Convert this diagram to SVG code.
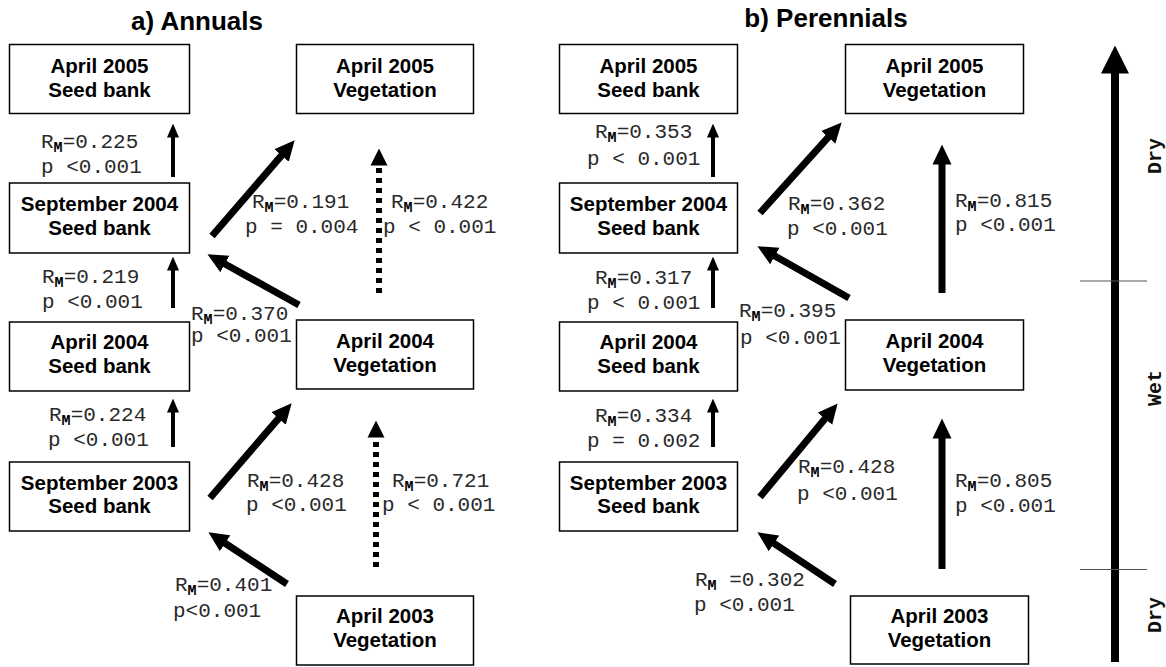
<svg xmlns="http://www.w3.org/2000/svg" width="1166" height="667" viewBox="0 0 1166 667">
<style>
.box rect{fill:#fff;stroke:#000;stroke-width:1.5}
.box text{font-family:"Liberation Sans",Arial,sans-serif;font-weight:bold;font-size:20.5px;text-anchor:middle;fill:#000}
.title{font-family:"Liberation Sans",Arial,sans-serif;font-weight:bold;font-size:26px;text-anchor:middle;fill:#000}
.lbl{font-family:"Liberation Mono","Courier New",monospace;font-size:21px;fill:#2a2a2a}
.sub{font-weight:bold;font-size:15px;fill:#000}
.axl{font-family:"Liberation Mono","Courier New",monospace;font-weight:bold;font-size:20px;text-anchor:middle;fill:#111}
.thin{stroke:#000;stroke-width:4;fill:none;marker-end:url(#hThin)}
.thick{stroke:#000;stroke-width:7;fill:none;marker-end:url(#hThick)}
.dot{stroke:#000;stroke-width:6;stroke-dasharray:5 5;fill:none;marker-end:url(#hDot)}
.axis{stroke:#000;stroke-width:8;fill:none;marker-end:url(#hAxis)}
.tick{stroke:#555;stroke-width:1.2}
</style>
<defs>
<marker id="hThin" markerUnits="userSpaceOnUse" viewBox="0 -6 14 12" markerWidth="14" markerHeight="12" refX="0.5" refY="0" orient="auto"><path d="M0,-6 L14,0 L0,6 z" fill="#000"/></marker>
<marker id="hThick" markerUnits="userSpaceOnUse" viewBox="0 -10 20 20" markerWidth="20" markerHeight="20" refX="0.5" refY="0" orient="auto"><path d="M0,-9.5 L20,0 L0,9.5 z" fill="#000"/></marker>
<marker id="hDot" markerUnits="userSpaceOnUse" viewBox="0 -9 17 18" markerWidth="17" markerHeight="18" refX="0.5" refY="0" orient="auto"><path d="M0,-8.5 L17,0 L0,8.5 z" fill="#000"/></marker>
<marker id="hAxis" markerUnits="userSpaceOnUse" viewBox="0 -14 28 28" markerWidth="28" markerHeight="28" refX="0.5" refY="0" orient="auto"><path d="M0,-14 L28,0 L0,14 z" fill="#000"/></marker>
</defs>

<text class="title" x="197" y="30">a) Annuals</text>
<text class="title" x="826" y="27">b) Perennials</text>

<!-- Left panel nodes -->
<g id="a-sb-apr2005" class="box"><rect x="9.5" y="44.5" width="180" height="69"/><text x="99.5" y="73">April 2005</text><text x="99.5" y="97">Seed bank</text></g>
<g id="a-veg-apr2005" class="box"><rect x="296.5" y="44.5" width="177" height="69"/><text x="385" y="73">April 2005</text><text x="385" y="97">Vegetation</text></g>
<g id="a-sb-sep2004" class="box"><rect x="9.5" y="183" width="180" height="70"/><text x="99.5" y="211">September 2004</text><text x="99.5" y="235">Seed bank</text></g>
<g id="a-sb-apr2004" class="box"><rect x="9.5" y="322" width="180" height="69"/><text x="99.5" y="349">April 2004</text><text x="99.5" y="373">Seed bank</text></g>
<g id="a-veg-apr2004" class="box"><rect x="296.5" y="320" width="177" height="69"/><text x="385" y="348">April 2004</text><text x="385" y="372">Vegetation</text></g>
<g id="a-sb-sep2003" class="box"><rect x="9.5" y="462" width="180" height="69"/><text x="99.5" y="490">September 2003</text><text x="99.5" y="513">Seed bank</text></g>
<g id="a-veg-apr2003" class="box"><rect x="296.5" y="596" width="177" height="69"/><text x="385" y="623">April 2003</text><text x="385" y="647">Vegetation</text></g>

<!-- Right panel nodes -->
<g id="b-sb-apr2005" class="box"><rect x="559.5" y="44.5" width="178" height="69"/><text x="648.5" y="73">April 2005</text><text x="648.5" y="97">Seed bank</text></g>
<g id="b-veg-apr2005" class="box"><rect x="845.5" y="44.5" width="178" height="69"/><text x="934.5" y="73">April 2005</text><text x="934.5" y="97">Vegetation</text></g>
<g id="b-sb-sep2004" class="box"><rect x="559.5" y="183" width="178" height="70"/><text x="648.5" y="211">September 2004</text><text x="648.5" y="235">Seed bank</text></g>
<g id="b-sb-apr2004" class="box"><rect x="559.5" y="322" width="178" height="69"/><text x="648.5" y="349">April 2004</text><text x="648.5" y="373">Seed bank</text></g>
<g id="b-veg-apr2004" class="box"><rect x="845.5" y="320" width="178" height="70"/><text x="934.5" y="348">April 2004</text><text x="934.5" y="372">Vegetation</text></g>
<g id="b-sb-sep2003" class="box"><rect x="559.5" y="462" width="178" height="69"/><text x="648.5" y="490">September 2003</text><text x="648.5" y="513">Seed bank</text></g>
<g id="b-veg-apr2003" class="box"><rect x="850.5" y="596" width="178" height="68"/><text x="939.5" y="623">April 2003</text><text x="939.5" y="647">Vegetation</text></g>

<!-- Connectors -->
<g id="connectors">
<line class="thin" x1="173" y1="177" x2="173" y2="137"/>
<line class="thin" x1="173" y1="308" x2="173" y2="270"/>
<line class="thin" x1="173" y1="447" x2="173" y2="412"/>
<line class="thick" x1="212" y1="236" x2="281.9" y2="155.1"/>
<line class="thick" x1="299" y1="305" x2="224.5" y2="263.7"/>
<line class="thick" x1="210" y1="498" x2="278.9" y2="418.1"/>
<line class="thick" x1="287" y1="584" x2="224.7" y2="543"/>
<line class="dot" x1="379" y1="293" x2="379" y2="165"/>
<line class="dot" x1="376" y1="567" x2="376" y2="437"/>

<line class="thin" x1="713" y1="177" x2="713" y2="137"/>
<line class="thin" x1="713" y1="308" x2="713" y2="270"/>
<line class="thin" x1="713" y1="447" x2="713" y2="412"/>
<line class="thick" x1="760" y1="213" x2="828.6" y2="136.9"/>
<line class="thick" x1="849" y1="298" x2="774.4" y2="255.8"/>
<line class="thick" x1="760" y1="497" x2="825.2" y2="418.4"/>
<line class="thick" x1="835" y1="584" x2="773.6" y2="543.1"/>
<line class="thick" x1="942" y1="293" x2="942" y2="164"/>
<line class="thick" x1="942" y1="569" x2="942" y2="438"/>
</g>

<!-- Connector labels -->
<g id="labels" class="lbl">
<text x="41" y="148">R<tspan class="sub" dy="4">M</tspan><tspan dy="-4">=0.225</tspan></text>
<text x="41" y="173">p &lt;0.001</text>
<text x="252" y="208">R<tspan class="sub" dy="4">M</tspan><tspan dy="-4">=0.191</tspan></text>
<text x="245" y="233">p = 0.004</text>
<text x="391" y="208">R<tspan class="sub" dy="4">M</tspan><tspan dy="-4">=0.422</tspan></text>
<text x="383" y="233">p &lt; 0.001</text>
<text x="42" y="283">R<tspan class="sub" dy="4">M</tspan><tspan dy="-4">=0.219</tspan></text>
<text x="42" y="308">p &lt;0.001</text>
<text x="191" y="320">R<tspan class="sub" dy="4">M</tspan><tspan dy="-4">=0.370</tspan></text>
<text x="191" y="342">p &lt;0.001</text>
<text x="49" y="421">R<tspan class="sub" dy="4">M</tspan><tspan dy="-4">=0.224</tspan></text>
<text x="48" y="446">p &lt;0.001</text>
<text x="247" y="487">R<tspan class="sub" dy="4">M</tspan><tspan dy="-4">=0.428</tspan></text>
<text x="246" y="511">p &lt;0.001</text>
<text x="392" y="487">R<tspan class="sub" dy="4">M</tspan><tspan dy="-4">=0.721</tspan></text>
<text x="382" y="511">p &lt; 0.001</text>
<text x="175" y="591">R<tspan class="sub" dy="4">M</tspan><tspan dy="-4">=0.401</tspan></text>
<text x="173" y="617">p&lt;0.001</text>

<text x="595" y="138">R<tspan class="sub" dy="4">M</tspan><tspan dy="-4">=0.353</tspan></text>
<text x="587" y="165">p &lt; 0.001</text>
<text x="788" y="210">R<tspan class="sub" dy="4">M</tspan><tspan dy="-4">=0.362</tspan></text>
<text x="787" y="235">p &lt;0.001</text>
<text x="955" y="207">R<tspan class="sub" dy="4">M</tspan><tspan dy="-4">=0.815</tspan></text>
<text x="955" y="231">p &lt;0.001</text>
<text x="595" y="284">R<tspan class="sub" dy="4">M</tspan><tspan dy="-4">=0.317</tspan></text>
<text x="587" y="309">p &lt; 0.001</text>
<text x="739" y="317">R<tspan class="sub" dy="4">M</tspan><tspan dy="-4">=0.395</tspan></text>
<text x="740" y="344">p &lt;0.001</text>
<text x="595" y="422">R<tspan class="sub" dy="4">M</tspan><tspan dy="-4">=0.334</tspan></text>
<text x="587" y="447">p = 0.002</text>
<text x="798" y="473">R<tspan class="sub" dy="4">M</tspan><tspan dy="-4">=0.428</tspan></text>
<text x="797" y="500">p &lt;0.001</text>
<text x="955" y="487">R<tspan class="sub" dy="4">M</tspan><tspan dy="-4">=0.805</tspan></text>
<text x="955" y="512">p &lt;0.001</text>
<text x="695" y="586">R<tspan class="sub" dy="4">M</tspan><tspan dy="-4"> =0.302</tspan></text>
<text x="694" y="611">p &lt;0.001</text>
</g>

<!-- Climate axis -->
<g id="climate-axis">
<line class="axis" x1="1115" y1="662" x2="1115" y2="73"/>
<line class="tick" x1="1080" y1="281" x2="1147" y2="281"/>
<line class="tick" x1="1080" y1="569.5" x2="1147" y2="569.5"/>
<text class="axl" transform="translate(1161,156) rotate(-90)">Dry</text>
<text class="axl" transform="translate(1161,388) rotate(-90)">Wet</text>
<text class="axl" transform="translate(1161,615) rotate(-90)">Dry</text>
</g>
</svg>
